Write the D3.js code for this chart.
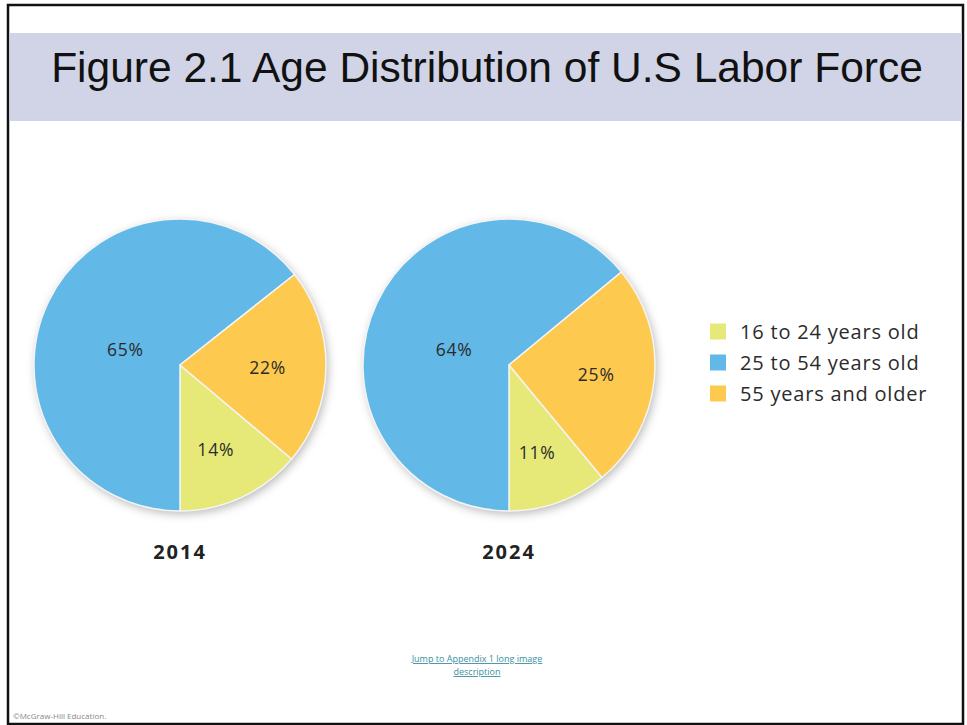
<!DOCTYPE html>
<html>
<head>
<meta charset="utf-8">
<script src="https://cdn.jsdelivr.net/npm/d3@7"></script>
<style>
  html, body { margin: 0; padding: 0; background: #fff; }
  svg { display: block; }
</style>
</head>
<body>
<div id="main"></div>
<script>
const w = 967, h = 725;

// data
const categories = ['16 to 24 years old', '25 to 54 years old', '55 years and older'];
const years = ['2014', '2024'];
const values2014 = [14, 65, 22];
const values2024 = [11, 64, 25];
const colors = ['#e6e977', '#62b8e7', '#fdc94e'];
// order slices are laid out, counterclockwise from 6 o'clock
const sliceOrder = [0, 2, 1];
// how far out each label sits (fraction of radius) and a small nudge
const labelFrac = [0.63, 0.4, 0.6];
const labelShiftX = [-3, -2, 0];
const labelShiftY = [1, 10, 2];

const font = 'Open Sans, Lato, sans-serif';

const svg = d3.select('#main')
    .append('svg')
    .attr('width', w)
    .attr('height', h);

const defs = svg.append('defs');
const shadow = defs.append('filter')
    .attr('id', 'shadow')
    .attr('x', '-20%').attr('y', '-20%')
    .attr('width', '140%').attr('height', '140%');
shadow.append('feDropShadow')
    .attr('dx', 2).attr('dy', 3)
    .attr('stdDeviation', 5)
    .attr('flood-color', '#000')
    .attr('flood-opacity', 0.28);

// frame
svg.append('rect')
    .attr('x', 8).attr('y', 5)
    .attr('width', w - 12).attr('height', h - 6)
    .attr('fill', '#fff')
    .attr('stroke', '#111')
    .attr('stroke-width', 2.5);

// title band
svg.append('rect')
    .attr('x', 9.5).attr('y', 33)
    .attr('width', w - 14.5).attr('height', 88)
    .attr('fill', '#d0d4e6');

svg.append('text')
    .text('Figure 2.1 Age Distribution of U.S Labor Force')
    .attr('x', 487).attr('y', 82)
    .attr('text-anchor', 'middle')
    .attr('font-family', 'Liberation Sans, Arial, sans-serif')
    .attr('font-size', 42.5)
    .attr('fill', '#111');

const r = 146;
const centers = d3.scalePoint()
    .domain(years)
    .range([180, 509]);
const cy = 365;

const pie = d3.pie()
    .sort((a, b) => sliceOrder.indexOf(a.i) - sliceOrder.indexOf(b.i))
    .value(d => d.v)
    .startAngle(Math.PI)
    .endAngle(-Math.PI);

const arc = d3.arc().innerRadius(0).outerRadius(r);

[values2014, values2024].forEach((vals, k) => {
    const year = years[k];
    const g = svg.append('g')
        .attr('transform', 'translate(' + centers(year) + ',' + cy + ')');

    const arcs = pie(vals.map((v, i) => ({ v: v, i: i })));

    g.append('circle')
        .attr('r', r)
        .attr('fill', '#fff')
        .attr('filter', 'url(#shadow)');

    g.selectAll('path')
        .data(arcs)
        .enter()
        .append('path')
        .attr('d', arc)
        .attr('fill', d => colors[d.data.i])
        .attr('stroke', '#f4f4f4')
        .attr('stroke-width', 1.5);

    g.selectAll('text.lbl')
        .data(arcs)
        .enter()
        .append('text')
        .attr('class', 'lbl')
        .attr('transform', d => {
            const i = d.data.i;
            const la = d3.arc().innerRadius(r * labelFrac[i]).outerRadius(r * labelFrac[i]);
            const c = la.centroid(d);
            return 'translate(' + (c[0] + labelShiftX[i]) + ',' + (c[1] + labelShiftY[i]) + ')';
        })
        .attr('text-anchor', 'middle')
        .attr('dy', '0.35em')
        .attr('font-family', font)
        .attr('font-size', 17.5)
        .attr('letter-spacing', 0.8)
        .attr('fill', '#2b2b2b')
        .text(d => d.data.v + '%');

    svg.append('text')
        .text(year)
        .attr('x', centers(year))
        .attr('y', 559)
        .attr('text-anchor', 'middle')
        .attr('font-family', font)
        .attr('font-weight', 'bold')
        .attr('font-size', 20)
        .attr('letter-spacing', 2)
        .attr('fill', '#222');
});

// legend
const legendY = d3.scaleBand()
    .domain(categories)
    .range([316, 409]);

const legend = svg.append('g');
categories.forEach((c, i) => {
    legend.append('rect')
        .attr('x', 710)
        .attr('y', legendY(c) + legendY.bandwidth() / 2 - 8)
        .attr('width', 16).attr('height', 16)
        .attr('fill', colors[i]);
    legend.append('text')
        .text(c)
        .attr('x', 740)
        .attr('y', legendY(c) + legendY.bandwidth() / 2)
        .attr('dy', '0.35em')
        .attr('font-family', font)
        .attr('font-size', 20)
        .attr('letter-spacing', 0.8)
        .attr('fill', '#2b2b2b');
});

// footer bits
svg.append('text')
    .text('Jump to Appendix 1 long image')
    .attr('x', 477).attr('y', 662)
    .attr('text-anchor', 'middle')
    .attr('font-family', font)
    .attr('font-size', 9)
    .attr('text-decoration', 'underline')
    .attr('fill', '#3a8fa0');
svg.append('text')
    .text('description')
    .attr('x', 477).attr('y', 675)
    .attr('text-anchor', 'middle')
    .attr('font-family', font)
    .attr('font-size', 9)
    .attr('text-decoration', 'underline')
    .attr('fill', '#3a8fa0');

svg.append('text')
    .text('©McGraw-Hill Education.')
    .attr('x', 13).attr('y', 719)
    .attr('font-family', font)
    .attr('font-size', 8)
    .attr('fill', '#888');
</script>
</body>
</html>
